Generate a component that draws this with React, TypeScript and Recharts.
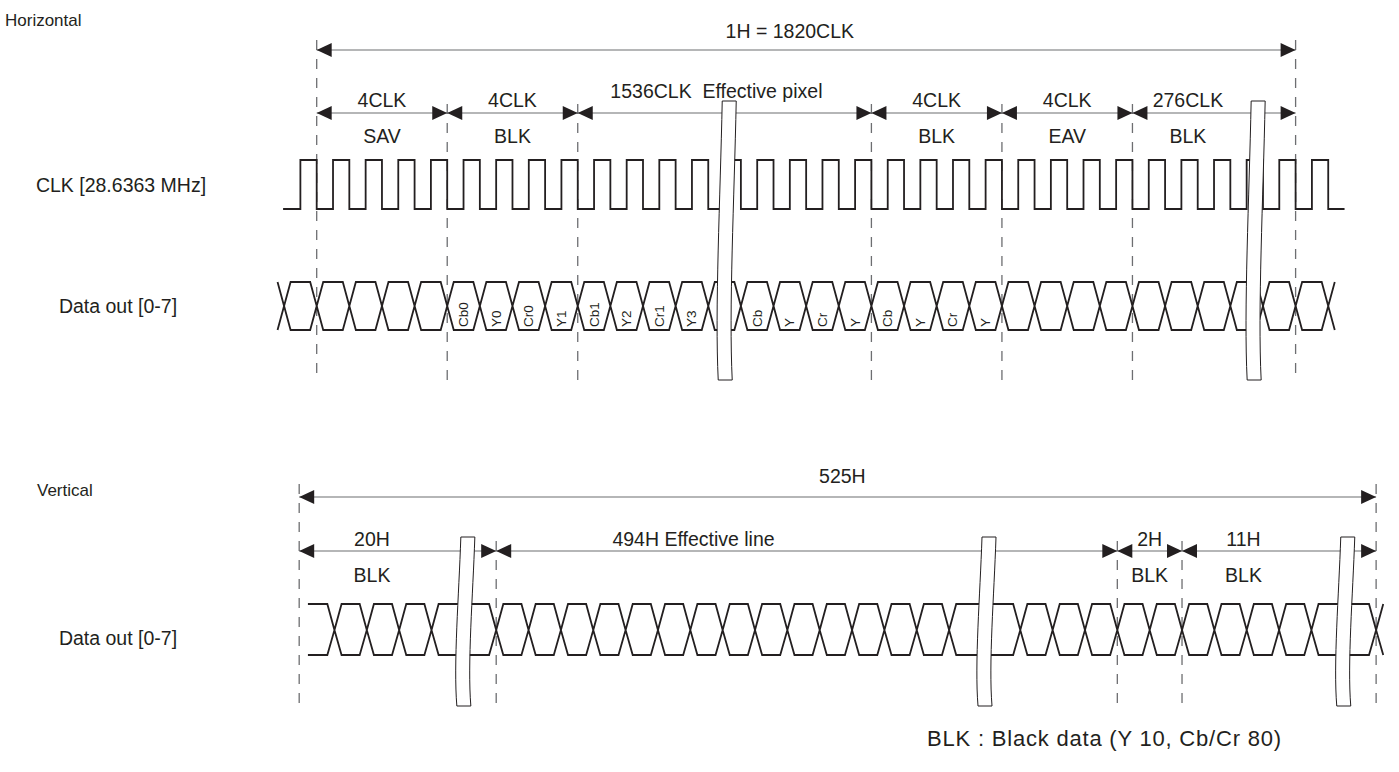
import { ComposedChart, XAxis, YAxis, Line, Scatter } from 'recharts';

const W = 1399;
const H = 772;
const INK = '#231f20';
const GREY = '#6d6e71';
const FONT = '"Liberation Sans", Arial, Helvetica, sans-serif';

// ---- horizontal timing, x in clock periods (0 = first SAV clock)
const hSpanLabels = ['4CLK', '4CLK', '1536CLK  Effective pixel', '4CLK', '4CLK', '276CLK'];
const hSpanKinds = ['SAV', 'BLK', '', 'BLK', 'EAV', 'BLK'];
const hBounds = [0, 4, 8, 17, 21, 25, 30];
const hLabelAt = [2, 6, 12.25, 19, 23, 26.7];
const hTotalLabel = '1H = 1820CLK';
const hTotalAt = 14.5;
const hBreaks = [12.52, 28.73];
const clkRise = [-0.5, 0.5, 1.5, 2.5, 3.5, 4.5, 5.5, 6.5, 7.5, 8.5, 9.5, 10.5, 11.5, 12.5, 13.5, 14.5,
  15.5, 16.5, 17.5, 18.5, 19.5, 20.5, 21.5, 22.5, 23.5, 24.5, 25.5, 26.5, 27.5, 28.5, 29.5, 30.5];
const clkFall = [0, 1, 2, 3, 4, 5, 6, 7, 8, 9, 10, 11, 12, 13, 14, 15,
  16, 17, 18, 19, 20, 21, 22, 23, 24, 25, 26, 27, 28, 29, 30, 31];
const clkSpan = [-1.03, 31.5];
// one word per data cell, first cell starts one clock before SAV
const hCellStart = -1;
const hCells = ['', '', '', '', '', 'Cb0', 'Y0', 'Cr0', 'Y1', 'Cb1', 'Y2', 'Cr1', 'Y3', '',
  'Cb', 'Y', 'Cr', 'Y', 'Cb', 'Y', 'Cr', 'Y', '', '', '', '', '', '', '', '', '', ''];

// ---- vertical timing, x in lines (0 = first effective line)
const vSpanLabels = ['20H', '494H Effective line', '2H', '11H'];
const vSpanKinds = ['BLK', '', 'BLK', 'BLK'];
const vBounds = [-6.09, 0, 19.2, 21.2, 27.2];
const vLabelAt = [-3.84, 6.1, 20.2, 23.1];
const vTotalLabel = '525H';
const vTotalAt = 10.7;
const vBreaks = [-1.0, 15.11, 26.2];
const vDataStart = -5.82;
const vCross = [-5, -4, -3, -2, 0, 1, 2, 3, 4, 5, 6, 7, 8, 9, 10, 11, 12, 13, 14,
  16.2, 17.2, 18.2, 19.2, 20.2, 21.2, 22.2, 23.2, 24.2, 25.2, 27.2];

const rowNames = ['CLK [28.6363 MHz]', 'Data out [0-7]', 'Data out [0-7]'];
const sectionTitles = ['Horizontal', 'Vertical'];
const footNote = 'BLK : Black data (Y 10, Cb/Cr 80)';

// layout (page pixels)
const L = {
  hOrigin: 316.7, hStep: 32.63,
  vOrigin: 496.2, vStep: 32.35,
  hTotalY: 50, hTotalTextY: 31, hArrowY: 113, hLabelY: 100, hWideLabelY: 91, hKindY: 136,
  hDashOuterTop: 40, hDashInnerTop: 104, hDashBottom: 382,
  clkHigh: 160, clkLow: 209,
  eyeTop: 282, eyeMid: 306, eyeBot: 330, eyeSlope: 0.2, cellTextY: 327,
  hBreakTop: 101, hBreakBottom: 380,
  vTotalY: 497, vTotalTextY: 476, vArrowY: 551, vLabelY: 539, vKindY: 575,
  vDashOuterTop: 484, vDashInnerTop: 541, vDashBottom: 704,
  vEyeTop: 604, vEyeMid: 630, vEyeBot: 655, vEyeSlope: 0.22,
  vBreakTop: 537, vBreakBottom: 706,
  labelSize: 19.5, titleSize: 17, cellSize: 13.5, noteSize: 22,
};

const hDomain = [-L.hOrigin / L.hStep, (W - L.hOrigin) / L.hStep];
const vDomain = [-L.vOrigin / L.vStep, (W - L.vOrigin) / L.vStep];

type P = { x: number; y: number | null };

function clockPoints(): P[] {
  const pts: P[] = [{ x: clkSpan[0], y: L.clkLow }];
  clkRise.forEach((r, i) => {
    pts.push({ x: r, y: L.clkLow }, { x: r, y: L.clkHigh }, { x: clkFall[i], y: L.clkHigh }, { x: clkFall[i], y: L.clkLow });
  });
  pts.push({ x: clkSpan[1], y: L.clkLow });
  return pts;
}

function eyePoints(cross: number[], d: number, top: number, mid: number, bot: number, start?: number): P[] {
  const up: P[] = [];
  const lo: P[] = [];
  if (start !== undefined) {
    up.push({ x: start, y: top });
    lo.push({ x: start, y: bot });
  }
  cross.forEach((c) => {
    up.push({ x: c - d, y: top }, { x: c, y: mid }, { x: c + d, y: top });
    lo.push({ x: c - d, y: bot }, { x: c, y: mid }, { x: c + d, y: bot });
  });
  return [...up, { x: cross[cross.length - 1], y: null }, ...lo];
}

function spanLines(bounds: number[], y: number): P[] {
  const pts: P[] = [];
  for (let i = 0; i < bounds.length - 1; i++) {
    pts.push({ x: bounds[i], y }, { x: bounds[i + 1], y }, { x: bounds[i + 1], y: null });
  }
  return pts;
}

function spanHeads(bounds: number[], y: number) {
  const out: { x: number; y: number; dir: number }[] = [];
  for (let i = 0; i < bounds.length - 1; i++) {
    out.push({ x: bounds[i], y, dir: -1 }, { x: bounds[i + 1], y, dir: 1 });
  }
  return out;
}

function dashPoints(bounds: number[], outerTop: number, innerTop: number, bottom: number): P[] {
  const pts: P[] = [];
  bounds.forEach((b, i) => {
    const top = i === 0 || i === bounds.length - 1 ? outerTop : innerTop;
    pts.push({ x: b, y: top }, { x: b, y: bottom }, { x: b, y: null });
  });
  return pts;
}

// eslint-disable-next-line @typescript-eslint/no-explicit-any
const headShape = (props: any) => {
  const { cx, cy, payload } = props;
  const len = 15;
  const half = 7;
  const d = payload.dir;
  return <path d={`M${cx},${cy} L${cx - d * len},${cy - half} L${cx - d * len},${cy + half} Z`} fill={INK} />;
};

const breakShape = (top: number, bottom: number) => {
  // eslint-disable-next-line @typescript-eslint/no-explicit-any
  return (props: any) => {
    const { cx } = props;
    const h = bottom - top;
    const w = 14;
    const l = cx - w / 2;
    const r = l + w;
    const d = `M${l + 4},${top} C${l + 2},${top + 0.35 * h} ${l - 3.5},${top + 0.75 * h} ${l},${bottom}`
      + ` L${r},${bottom} C${r - 3.5},${top + 0.75 * h} ${r + 2},${top + 0.35 * h} ${r + 4},${top} Z`;
    return <path d={d} fill="#fff" stroke={INK} strokeWidth={1} />;
  };
};

const textShape = (size: number, anchor: 'start' | 'middle' = 'middle', rotate = false, spacing = 0) => {
  // eslint-disable-next-line @typescript-eslint/no-explicit-any
  return (props: any) => {
    const { cx, cy, payload } = props;
    return (
      <text
        x={cx}
        y={cy}
        fontSize={size}
        fontFamily={FONT}
        fill={INK}
        letterSpacing={spacing}
        textAnchor={rotate ? 'start' : anchor}
        dominantBaseline="central"
        style={{ whiteSpace: 'pre' }}
        transform={rotate ? `rotate(-90 ${cx} ${cy})` : undefined}
      >
        {payload.text}
      </text>
    );
  };
};

export default function App() {
  const hCross = hCells.map((_, i) => hCellStart + i).concat(hCellStart + hCells.length);
  const hCellText = hCells
    .map((t, i) => ({ x: hCellStart + i + 0.5, y: L.cellTextY, text: t }))
    .filter((c) => c.text !== '');

  const hText = [
    { x: hTotalAt, y: L.hTotalTextY, text: hTotalLabel },
    ...hSpanLabels.map((t, i) => ({ x: hLabelAt[i], y: t.length > 8 ? L.hWideLabelY : L.hLabelY, text: t })),
    ...hSpanKinds.map((t, i) => ({ x: hLabelAt[i], y: L.hKindY, text: t })).filter((c) => c.text !== ''),
  ];
  const vText = [
    { x: vTotalAt, y: L.vTotalTextY, text: vTotalLabel },
    ...vSpanLabels.map((t, i) => ({ x: vLabelAt[i], y: L.vLabelY, text: t })),
    ...vSpanKinds.map((t, i) => ({ x: vLabelAt[i], y: L.vKindY, text: t })).filter((c) => c.text !== ''),
  ];
  const rowText = [
    { x: 121, y: 185, text: rowNames[0] },
    { x: 118, y: 306, text: rowNames[1] },
    { x: 118, y: 638, text: rowNames[2] },
  ];
  const titleText = [
    { x: 5, y: 20, text: sectionTitles[0] },
    { x: 37, y: 490, text: sectionTitles[1] },
  ];
  const noteText = [{ x: 927, y: 738, text: footNote }];

  const hEnds = [hBounds[0], hBounds[hBounds.length - 1]];
  const vEnds = [vBounds[0], vBounds[vBounds.length - 1]];

  return (
    <div style={{ position: 'fixed', left: 0, top: 0, width: W, height: H, background: '#fff' }}>
      <ComposedChart width={W} height={H} margin={{ top: 0, right: 0, bottom: 0, left: 0 }}>
        <XAxis xAxisId="h" type="number" dataKey="x" domain={hDomain} hide allowDataOverflow />
        <XAxis xAxisId="v" type="number" dataKey="x" domain={vDomain} hide allowDataOverflow />
        <XAxis xAxisId="p" type="number" dataKey="x" domain={[0, W]} hide allowDataOverflow />
        <YAxis type="number" dataKey="y" domain={[0, H]} reversed hide allowDataOverflow />

        {/* dashed boundary markers */}
        <Line xAxisId="h" data={dashPoints(hBounds, L.hDashOuterTop, L.hDashInnerTop, L.hDashBottom)} dataKey="y"
          stroke={GREY} strokeWidth={1.3} strokeDasharray="10 9" dot={false} activeDot={false} isAnimationActive={false} />
        <Line xAxisId="v" data={dashPoints(vBounds, L.vDashOuterTop, L.vDashInnerTop, L.vDashBottom)} dataKey="y"
          stroke={GREY} strokeWidth={1.3} strokeDasharray="10 9" dot={false} activeDot={false} isAnimationActive={false} />

        {/* dimension arrows */}
        <Line xAxisId="h" data={[{ x: hEnds[0], y: L.hTotalY }, { x: hEnds[1], y: L.hTotalY }]} dataKey="y"
          stroke={GREY} strokeWidth={1.2} dot={false} activeDot={false} isAnimationActive={false} />
        <Line xAxisId="h" data={spanLines(hBounds, L.hArrowY)} dataKey="y"
          stroke={GREY} strokeWidth={1.2} dot={false} activeDot={false} isAnimationActive={false} />
        <Line xAxisId="v" data={[{ x: vEnds[0], y: L.vTotalY }, { x: vEnds[1], y: L.vTotalY }]} dataKey="y"
          stroke={GREY} strokeWidth={1.2} dot={false} activeDot={false} isAnimationActive={false} />
        <Line xAxisId="v" data={spanLines(vBounds, L.vArrowY)} dataKey="y"
          stroke={GREY} strokeWidth={1.2} dot={false} activeDot={false} isAnimationActive={false} />

        {/* waveforms */}
        <Line xAxisId="h" data={clockPoints()} dataKey="y" stroke={INK} strokeWidth={1.8}
          dot={false} activeDot={false} isAnimationActive={false} />
        <Line xAxisId="h" data={eyePoints(hCross, L.eyeSlope, L.eyeTop, L.eyeMid, L.eyeBot)} dataKey="y"
          stroke={INK} strokeWidth={1.8} dot={false} activeDot={false} isAnimationActive={false} />
        <Line xAxisId="v" data={eyePoints(vCross, L.vEyeSlope, L.vEyeTop, L.vEyeMid, L.vEyeBot, vDataStart)} dataKey="y"
          stroke={INK} strokeWidth={1.8} dot={false} activeDot={false} isAnimationActive={false} />

        {/* break marks */}
        <Scatter xAxisId="h" data={hBreaks.map((x) => ({ x, y: L.hBreakTop }))} shape={breakShape(L.hBreakTop, L.hBreakBottom)} isAnimationActive={false} />
        <Scatter xAxisId="v" data={vBreaks.map((x) => ({ x, y: L.vBreakTop }))} shape={breakShape(L.vBreakTop, L.vBreakBottom)} isAnimationActive={false} />

        {/* arrow heads */}
        <Scatter xAxisId="h" data={[...spanHeads(hEnds, L.hTotalY), ...spanHeads(hBounds, L.hArrowY)]} shape={headShape} isAnimationActive={false} />
        <Scatter xAxisId="v" data={[...spanHeads(vEnds, L.vTotalY), ...spanHeads(vBounds, L.vArrowY)]} shape={headShape} isAnimationActive={false} />

        {/* texts */}
        <Scatter xAxisId="h" data={hText} shape={textShape(L.labelSize)} isAnimationActive={false} />
        <Scatter xAxisId="h" data={hCellText} shape={textShape(L.cellSize, 'start', true)} isAnimationActive={false} />
        <Scatter xAxisId="v" data={vText} shape={textShape(L.labelSize)} isAnimationActive={false} />
        <Scatter xAxisId="p" data={rowText} shape={textShape(L.labelSize)} isAnimationActive={false} />
        <Scatter xAxisId="p" data={titleText} shape={textShape(L.titleSize, 'start')} isAnimationActive={false} />
        <Scatter xAxisId="p" data={noteText} shape={textShape(L.noteSize, 'start', false, 0.8)} isAnimationActive={false} />
      </ComposedChart>
    </div>
  );
}
